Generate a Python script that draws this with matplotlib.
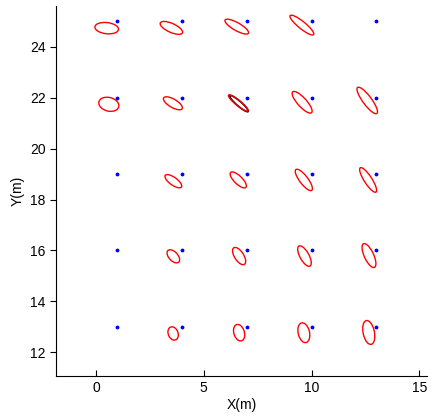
import numpy as np
import matplotlib.pyplot as plt
from matplotlib.patches import Ellipse

# Punktene (blå) i rutenettet
punkt_x = [1, 4, 7, 10, 13]
punkt_y = [13, 16, 19, 22, 25]

# Ellipser: senter, halvakser og vinkel (grader)
ell_x = [0.5, 3.5, 6.53, 9.55,
         0.6, 3.57, 6.6, 9.56, 12.58,
         3.59, 6.6, 9.64, 12.62,
         3.59, 6.64, 9.67, 12.66,
         3.58, 6.64, 9.64, 12.65]
ell_y = [24.73, 24.74, 24.79, 24.85,
         21.74, 21.78, 21.79, 21.82, 21.89,
         18.72, 18.77, 18.77, 18.77,
         15.77, 15.78, 15.78, 15.80,
         12.74, 12.77, 12.77, 12.78]
ell_a = [0.55, 0.55, 0.60, 0.66,
         0.47, 0.48, 0.55, 0.60, 0.68,
         0.44, 0.46, 0.55, 0.60,
         0.34, 0.41, 0.47, 0.53,
         0.28, 0.34, 0.40, 0.48]
ell_b = [0.22, 0.18, 0.16, 0.15,
         0.27, 0.17, 0.11, 0.19, 0.19,
         0.16, 0.17, 0.18, 0.17,
         0.19, 0.20, 0.20, 0.21,
         0.22, 0.24, 0.26, 0.26]
ell_vinkel = [-5, -20, -25, -34,
              -10, -25, -34, -42, -48,
              -30, -38, -47, -52,
              -38, -50, -55, -60,
              -55, -65, -72, -75]

# Den svarte ellipsen
svart = (6.63, 21.77, 0.53, 0.10, -36)

fig = plt.figure(figsize=(4.33, 4.19), dpi=100)
ax = fig.add_axes([56/433, 43/419, 371/433, 370/419])
plt.rcParams['font.family'] = ['Liberation Sans', 'DejaVu Sans']

X, Y = np.meshgrid(punkt_x, punkt_y)
ax.plot(X.ravel(), Y.ravel(), '.', color='blue', markersize=3.5)

ax.add_patch(Ellipse((svart[0], svart[1]), 2*svart[2], 2*svart[3],
                     angle=svart[4], fill=False, edgecolor='black', lw=1.2))

for x, y, a, b, v in zip(ell_x, ell_y, ell_a, ell_b, ell_vinkel):
    ax.add_patch(Ellipse((x, y), 2*a, 2*b, angle=v, fill=False,
                         edgecolor='red', lw=1.0))

ax.set_xlim(-1.85, 15.35)
ax.set_ylim(11.07, 25.6)
ax.set_xticks([0, 5, 10, 15])
ax.set_yticks([12, 14, 16, 18, 20, 22, 24])
for lab in ax.get_xticklabels() + ax.get_yticklabels():
    lab.set_family('Liberation Sans')
    lab.set_fontsize(10)
ax.tick_params(axis='x', direction='in', length=4, width=0.8)
ax.tick_params(axis='y', direction='out', length=4, width=0.8)
ax.spines['top'].set_visible(False)
ax.spines['right'].set_visible(False)
ax.set_xlabel('X(m)', fontsize=10, family='Liberation Sans', labelpad=2)
ax.set_ylabel('Y(m)', fontsize=10, family='Liberation Sans', labelpad=4)

plt.savefig('out.png', dpi=100)
